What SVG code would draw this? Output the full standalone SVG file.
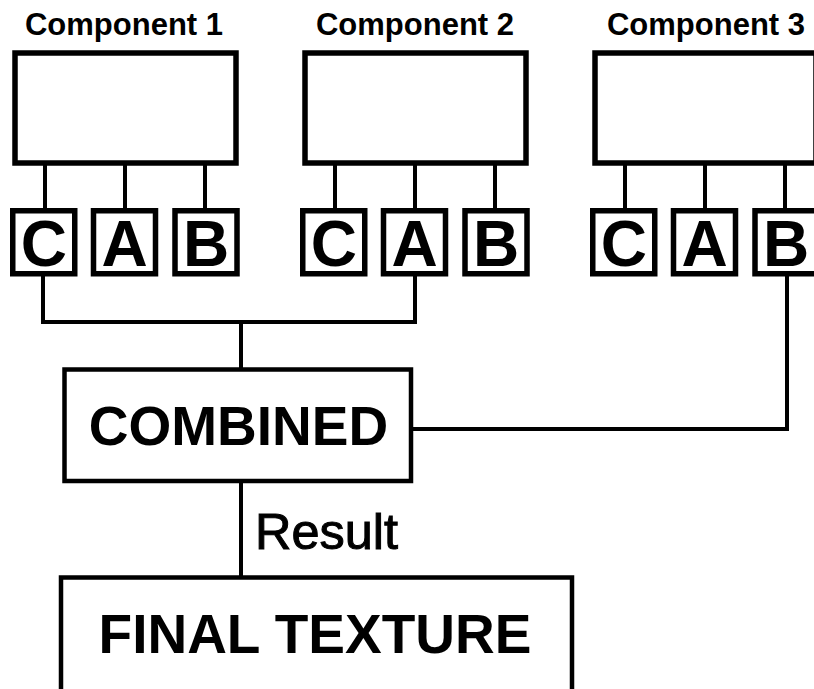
<svg xmlns="http://www.w3.org/2000/svg" width="814" height="689" viewBox="0 0 814 689">
<style>
.box{fill:#fff;stroke:#000;stroke-width:5.5}
.sbox{fill:#fff;stroke:#000;stroke-width:5.5}
.lbox{fill:#fff;stroke:#000;stroke-width:4.5}
.con{fill:none;stroke:#000;stroke-width:4;stroke-linejoin:miter}
.t{font-family:"Liberation Sans",Arial,sans-serif;fill:#000;text-anchor:middle}
.lbl{font-size:31px;font-weight:bold}
.let{font-size:64px;font-weight:bold}
.big{font-size:55px;font-weight:bold}
.res{font-size:50px;text-anchor:start;stroke:#000;stroke-width:1}
</style>
<rect width="814" height="689" fill="#fff"/>
<g id="connectors">
<path class="con" d="M45 163V211M125 163V211M205 163V211"/>
<path class="con" d="M335 163V211M415 163V211M495 163V211"/>
<path class="con" d="M625 163V211M705 163V211M785 163V211"/>
<path class="con" d="M43 274V322H415V274"/>
<path class="con" d="M241 322V369"/>
<path class="con" d="M787 274V429H411"/>
<path class="con" d="M241 481V577"/>
<text class="t res" x="255" y="549" textLength="143" lengthAdjust="spacingAndGlyphs">Result</text>
</g>
<g id="component1">
<text class="t lbl" x="124" y="35">Component 1</text>
<rect class="box" x="15" y="53" width="221" height="110"/>
</g>
<g id="component2">
<text class="t lbl" x="415" y="35">Component 2</text>
<rect class="box" x="305" y="53" width="221" height="110"/>
</g>
<g id="component3">
<text class="t lbl" x="706" y="35">Component 3</text>
<rect class="box" x="595" y="53" width="221" height="110"/>
</g>
<g id="c1C"><rect class="sbox" x="12.75" y="210.75" width="62" height="63"/><text class="t let" x="43.75" y="266">C</text></g>
<g id="c1A"><rect class="sbox" x="93.5" y="210.75" width="62" height="63"/><text class="t let" x="124.5" y="266">A</text></g>
<g id="c1B"><rect class="sbox" x="175" y="210.75" width="62" height="63"/><text class="t let" x="206" y="266">B</text></g>
<g id="c2C"><rect class="sbox" x="302.75" y="210.75" width="62" height="63"/><text class="t let" x="333.75" y="266">C</text></g>
<g id="c2A"><rect class="sbox" x="383.5" y="210.75" width="62" height="63"/><text class="t let" x="414.5" y="266">A</text></g>
<g id="c2B"><rect class="sbox" x="465" y="210.75" width="62" height="63"/><text class="t let" x="496" y="266">B</text></g>
<g id="c3C"><rect class="sbox" x="592.75" y="210.75" width="62" height="63"/><text class="t let" x="623.75" y="266">C</text></g>
<g id="c3A"><rect class="sbox" x="673.5" y="210.75" width="62" height="63"/><text class="t let" x="704.5" y="266">A</text></g>
<g id="c3B"><rect class="sbox" x="755" y="210.75" width="62" height="63"/><text class="t let" x="786" y="266">B</text></g>
<g id="combined">
<rect class="lbox" x="64.5" y="369.5" width="346.5" height="111.5"/>
<text class="t big" x="238.5" y="444.5">COMBINED</text>
</g>
<g id="final">
<rect class="lbox" x="61" y="577.5" width="511" height="130"/>
<text class="t big" x="315" y="653">FINAL TEXTURE</text>
</g>
</svg>
